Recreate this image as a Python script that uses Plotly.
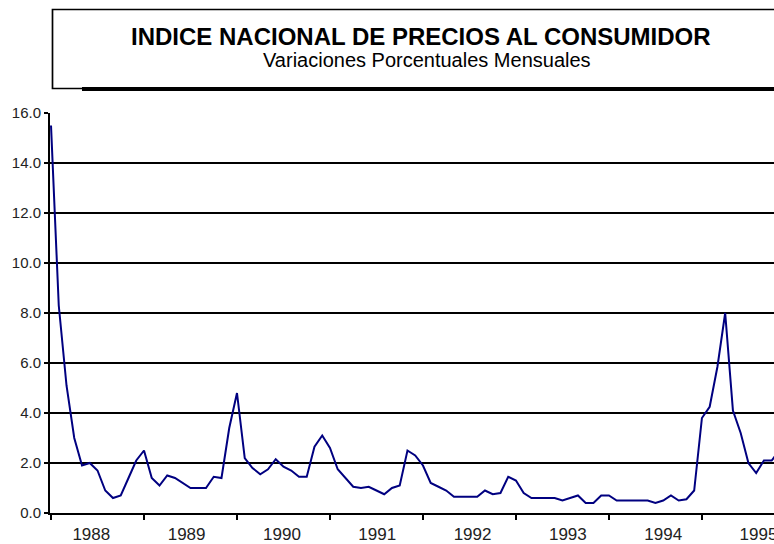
import plotly.graph_objects as go

# Monthly % change of the INPC, Jan 1988 onwards.
years = [1988, 1989, 1990, 1991, 1992, 1993, 1994, 1995]
variacion = [
    15.5, 8.3, 5.1, 3.0, 1.9, 2.0, 1.7, 0.9, 0.6, 0.7, 1.4, 2.1,      # 1988
    2.5, 1.4, 1.1, 1.5, 1.4, 1.2, 1.0, 1.0, 1.0, 1.45, 1.4, 3.4,      # 1989
    4.8, 2.2, 1.8, 1.55, 1.75, 2.15, 1.85, 1.7, 1.45, 1.45, 2.65, 3.1,  # 1990
    2.6, 1.75, 1.4, 1.05, 1.0, 1.05, 0.9, 0.75, 1.0, 1.1, 2.5, 2.3,   # 1991
    1.9, 1.2, 1.05, 0.9, 0.65, 0.65, 0.65, 0.65, 0.9, 0.75, 0.8, 1.45,  # 1992
    1.3, 0.8, 0.6, 0.6, 0.6, 0.6, 0.5, 0.6, 0.7, 0.4, 0.4, 0.7,       # 1993
    0.7, 0.5, 0.5, 0.5, 0.5, 0.5, 0.4, 0.5, 0.7, 0.5, 0.55, 0.9,      # 1994
    3.8, 4.25, 5.85, 8.0, 4.1, 3.2, 2.0, 1.6, 2.1, 2.1, 2.5,          # 1995
]
y_ticks = [0, 2, 4, 6, 8, 10, 12, 14, 16]

months = list(range(len(variacion)))
year_starts = [12 * k for k in range(len(years))]
label_pos = [5.2 + 12.3 * k for k in range(len(years))]

fig = go.Figure(go.Scatter(x=months, y=variacion, mode="lines",
                           line=dict(color="#000080", width=2),
                           hoverinfo="skip"))

W, H = 774, 544
L, R, T, B = 50, 0, 113, 31
pw, ph = W - L - R, H - T - B


def px(x):
    return (x - L) / pw


def py(y):
    return (H - B - y) / ph


fig.update_layout(
    width=W, height=H,
    margin=dict(l=L, r=R, t=T, b=B, autoexpand=False),
    paper_bgcolor="white", plot_bgcolor="white",
    showlegend=False,
    font=dict(family="Liberation Sans, Arial", color="#222222"),
    xaxis=dict(range=[-0.13, 93.3], showgrid=False, zeroline=False,
               showline=True, linecolor="black", linewidth=2,
               tickmode="array", tickvals=label_pos,
               ticktext=[str(y) for y in years], ticks="",
               tickfont=dict(size=17), ticklabelstandoff=5,
               ticklabeloverflow="allow",
               minor=dict(tickmode="array", tickvals=year_starts,
                          ticks="outside", ticklen=5, tickwidth=2,
                          tickcolor="black", showgrid=False)),
    yaxis=dict(range=[0, 16], tickmode="array", tickvals=y_ticks,
               ticktext=[f"{v:.1f}" for v in y_ticks],
               showgrid=True, gridcolor="black", gridwidth=2,
               zeroline=False, showline=True, linecolor="black",
               linewidth=2, ticks="outside", ticklen=4, tickwidth=2,
               tickcolor="black", tickfont=dict(size=15)),
)

# title box with the heavy bottom edge
fig.add_shape(type="rect", xref="paper", yref="paper",
              x0=px(52.5), x1=px(790), y0=py(88.5), y1=py(9.5),
              line=dict(color="black", width=1.7), fillcolor="rgba(0,0,0,0)")
fig.add_shape(type="line", xref="paper", yref="paper",
              x0=px(82), x1=px(790), y0=py(89), y1=py(89),
              line=dict(color="black", width=4))

fig.add_annotation(text="<b>INDICE NACIONAL DE PRECIOS AL CONSUMIDOR</b>",
                   xref="paper", yref="paper", x=px(421), y=py(36),
                   showarrow=False, font=dict(size=24, color="black"),
                   yanchor="middle")
fig.add_annotation(text="Variaciones Porcentuales Mensuales",
                   xref="paper", yref="paper", x=px(427), y=py(60),
                   showarrow=False, font=dict(size=20, color="black"),
                   yanchor="middle")

fig.write_html("out.html", config={"displayModeBar": False},
               post_script="document.body.style.margin='0';")
